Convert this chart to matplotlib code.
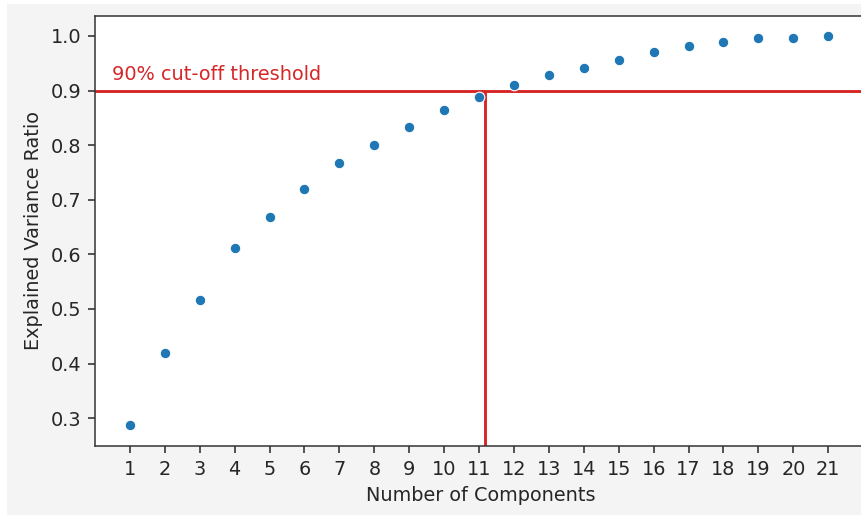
import numpy as np
import matplotlib
matplotlib.use('Agg')
import matplotlib.pyplot as plt
from matplotlib.patches import Rectangle

# explained variance ratio (cumulative) per number of components
n_components = list(range(1, 22))
explained_ratio = [0.287, 0.420, 0.517, 0.611, 0.669, 0.720, 0.768, 0.801,
                   0.834, 0.865, 0.888, 0.910, 0.929, 0.942, 0.956, 0.971,
                   0.982, 0.989, 0.996, 0.997, 1.000]
threshold = 0.9
cutoff_x = 11.18
threshold_label = '90% cut-off threshold'

fs = 13.9
plt.rcParams['font.size'] = fs

fig = plt.figure(figsize=(8.61, 5.15), dpi=100, facecolor='white')
fig.patches.append(Rectangle((7 / 861, 0), 1, 511 / 515, transform=fig.transFigure,
                             facecolor='#f4f4f4', edgecolor='none', zorder=-10))

# axes run slightly past the right edge, as in the cropped original
ax = fig.add_axes([95 / 861, 69 / 515, 772 / 861, 430 / 515])
ax.set_facecolor('white')

ax.scatter(n_components, explained_ratio, s=58, color='#1f77b4',
           edgecolor='white', linewidth=0.8, zorder=3)

ax.set_xlim(0, 22.11)
ax.set_ylim(0.249, 1.0365)

ax.axhline(threshold, color='#d62728', linewidth=2.1, zorder=2)
ax.vlines(cutoff_x, 0.249, threshold, color='#d62728', linewidth=2.1, zorder=2)
ax.text(0.5, 0.92, threshold_label, color='#d62728', fontsize=fs, va='baseline')

ax.set_xticks(n_components)
ax.set_yticks(np.arange(0.3, 1.01, 0.1))
ax.set_xlabel('Number of Components', fontsize=fs, labelpad=5.6, color='#262626')
ax.set_ylabel('Explained Variance Ratio', fontsize=fs, labelpad=5.6, color='#262626')
ax.tick_params(length=4.9, width=1.1, pad=4.9, labelsize=fs, colors='#262626')
for sp in ax.spines.values():
    sp.set_linewidth(1.1)
    sp.set_color('#333333')
ax.spines['right'].set_visible(False)

fig.savefig('out.png', dpi=100, facecolor=fig.get_facecolor())
